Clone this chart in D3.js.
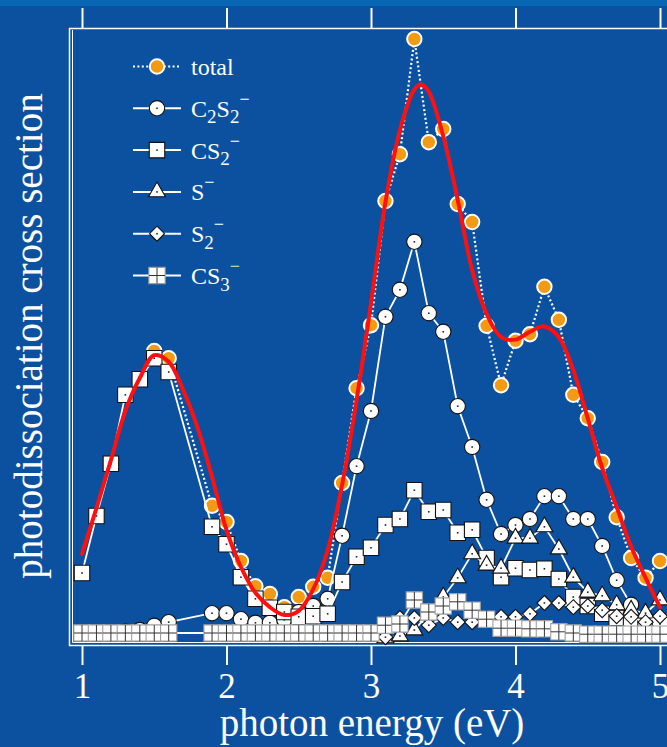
<!DOCTYPE html>
<html>
<head>
<meta charset="utf-8">
<script src="https://cdn.jsdelivr.net/npm/d3@7"></script>
<style>
  html, body { margin: 0; padding: 0; background: #0b51a0; }
  svg { display: block; }
  text { font-family: "Liberation Serif", "Times New Roman", serif; fill: #fff; }
</style>
</head>
<body>
<svg id="chart" width="667" height="747"></svg>
<script>
// photon energy (eV), no points measured at 1.7 and 1.8
const energy = [1.0, 1.1, 1.2, 1.3, 1.4, 1.5, 1.6,
  1.9, 2.0, 2.1, 2.2, 2.3, 2.4, 2.5, 2.6, 2.7, 2.8, 2.9, 3.0,
  3.1, 3.2, 3.3, 3.4, 3.5, 3.6, 3.7, 3.8, 3.9, 4.0,
  4.1, 4.2, 4.3, 4.4, 4.5, 4.6, 4.7, 4.8, 4.9, 5.0];

const total = [null, null, null, null, null, 47.0, 45.8,
  21.2, 18.5, 12.0, 7.8, 6.5, 4.3, 6.0, 7.7, 9.2, 25.0, 40.8, 51.3,
  72.0, 79.8, 99.0, 81.8, 84.0, 71.5, 68.5, 51.2, 41.3, 48.7,
  49.8, 57.7, 52.2, 39.7, 35.8, 28.5, 19.3, 12.5, 9.2, 12.0];

const c2s2 = [0, 0, 0, 0.2, 0.5, 1.2, 1.8,
  3.3, 3.3, 2.3, 1.7, 1.7, 2.2, 3.5, 4.5, 5.7, 16.2, 27.8, 37.0,
  52.7, 57.2, 65.2, 53.3, 50.2, 37.8, 31.0, 22.2, 16.5, 18.0,
  19.0, 22.8, 22.8, 19.0, 19.0, 14.5, 8.8, 4.7, 2.2, 1.3];

const cs2 = [10.0, 19.5, 28.2, 39.7, 42.3, 45.8, 43.5,
  17.7, 14.8, 9.3, 5.7, 4.2, 3.5, 2.7, 2.8, 3.2, 8.5, 12.7, 14.2,
  18.0, 19.0, 23.8, 20.2, 20.5, 16.7, 17.2, 12.5, 9.3, 10.8,
  10.5, 10.7, 9.0, 6.0, 4.5, 3.2, 2.5, 2.2, 1.8, 1.5];

const sMinus = [null, null, null, null, null, null, null,
  null, null, null, null, null, null, null, null, null, null, null, null,
  -0.8, -0.5, 0.5, 3.2, 6.0, 9.2, 13.2, 11.3, 10.8, 15.8,
  15.8, 17.7, 14.0, 9.3, 6.8, 6.2, 4.7, 3.8, 3.3, 5.5];

const s2 = [null, null, null, null, null, null, null,
  null, null, null, null, null, null, null, null, null, null, null, null,
  -0.7, 2.5, 2.5, 1.3, 2.5, 1.8, 1.8, 2.5, 2.7, 2.7,
  3.2, 5.0, 5.0, 4.3, 4.5, 3.8, 2.8, 2.7, 1.8, 2.8];

const cs3 = [0, 0, 0, 0, 0, 0, 0,
  0, 0, 0, 0, 0, 0, 0, 0, 0, 0, 0, 0,
  1.3, 1.5, 5.5, 3.5, 4.5, 5.2, 3.8, 2.3, 0.8, 0.8,
  0.7, 0.7, 0.2, 0, -0.2, -0.2, -0.2, -0.2, -0.2, -0.2];

// smooth fit drawn in red
const fitEnergy = [1.0, 1.1, 1.2, 1.3, 1.4, 1.5, 1.6, 1.7, 1.8, 1.9,
  2.0, 2.1, 2.2, 2.3, 2.4, 2.5, 2.6, 2.7, 2.8, 2.9,
  3.0, 3.1, 3.2, 3.3, 3.35, 3.4, 3.5, 3.6, 3.7, 3.8, 3.9,
  4.0, 4.1, 4.2, 4.3, 4.4, 4.5, 4.6, 4.7, 4.8, 4.9, 5.0];
const fitValues = [13.2, 20.8, 28.8, 37.0, 42.5, 46.3, 45.2, 40.5, 34.2, 26.0,
  17.2, 11.0, 6.7, 4.3, 3.0, 3.7, 7.3, 13.8, 24.7, 38.8,
  55.0, 71.8, 83.8, 90.6, 91.4, 90.2, 82.8, 72.2, 60.5, 53.2, 49.3,
  48.9, 50.2, 51.1, 49.3, 43.8, 35.8, 27.5, 21.0, 14.4, 9.2, 4.3];

const xTicks = [1, 2, 3, 4, 5];

const W = 667, H = 747;
const svg = d3.select('#chart');

svg.append('rect').attr('width', W).attr('height', H).attr('fill', '#0b51a0');
svg.append('rect').attr('width', W).attr('height', 6).attr('fill', '#0866b4');

const x = d3.scaleLinear().domain([1, 5]).range([82, 660]);
const y = d3.scaleLinear().domain([0, 100]).range([633, 33]);

// frame: top, left and bottom (right side runs off the page)
const frame = svg.append('g').attr('fill', 'none').attr('stroke', '#fff');
frame.append('path').attr('stroke-width', 1.5)
  .attr('d', `M${W + 5},28.5H69.5V645.5H${W + 5}`);
frame.append('path').attr('stroke-width', 1)
  .attr('d', `M72.5,30V642.5H${W + 5}`);

// ticks
const bottomAxis = svg.append('g')
  .attr('transform', 'translate(0,645)')
  .call(d3.axisBottom(x).tickValues(xTicks).tickSize(20).tickPadding(8).tickFormat(d3.format('d')));
const topAxis = svg.append('g')
  .attr('transform', 'translate(0,28)')
  .call(d3.axisTop(x).tickValues(xTicks).tickSize(20).tickFormat(''));
[bottomAxis, topAxis].forEach((g) => {
  g.select('.domain').remove();
  g.selectAll('line').attr('stroke', '#fff').attr('stroke-width', 2);
  g.selectAll('text').attr('fill', '#fff').attr('font-size', 35)
    .attr('font-family', '"Liberation Serif", serif');
});

// axis titles
svg.append('text')
  .attr('x', 372).attr('y', 736)
  .attr('text-anchor', 'middle')
  .attr('font-size', 39)
  .text('photon energy (eV)');
svg.append('text')
  .attr('transform', 'translate(42,336)rotate(-90)')
  .attr('text-anchor', 'middle')
  .attr('font-size', 39)
  .text('photodissociation cross section');

// markers
const diamondPath = 'M0,-7.5L7.5,0L0,7.5L-7.5,0Z';
function drawMarker(g, kind) {
  if (kind === 'total') {
    g.append('circle').attr('r', 7.2).attr('fill', '#f39a13')
      .attr('stroke', '#fff').attr('stroke-width', 2);
    return;
  }
  let shape;
  if (kind === 'circle') shape = d3.symbol(d3.symbolCircle, 185)();
  else if (kind === 'square') shape = d3.symbol(d3.symbolSquare, 240)();
  else if (kind === 'cross') shape = d3.symbol(d3.symbolSquare, 265)();
  else if (kind === 'triangle') shape = d3.symbol(d3.symbolTriangle, 125)();
  else shape = diamondPath;
  g.append('path').attr('d', shape).attr('fill', '#fff')
    .attr('stroke', kind === 'cross' ? '#a0a0a0' : '#111')
    .attr('stroke-width', 1.1);
  if (kind === 'cross') {
    g.append('path').attr('d', 'M0,-8V8M-8,0H8')
      .attr('stroke', '#333').attr('stroke-width', 1);
  } else {
    g.append('rect').attr('x', -0.8).attr('y', -0.8).attr('width', 1.6).attr('height', 1.6)
      .attr('fill', '#222');
  }
}

const seriesList = [
  { values: total, kind: 'total', dotted: true },
  { values: c2s2, kind: 'circle' },
  { values: cs2, kind: 'square' },
  { values: sMinus, kind: 'triangle' },
  { values: s2, kind: 'diamond' },
  { values: cs3, kind: 'cross' }
];

const line = d3.line()
  .defined((d) => d.v !== null)
  .x((d) => x(d.e))
  .y((d) => y(d.v));

const plot = svg.append('g');
seriesList.forEach((s) => {
  const pts = energy.map((e, i) => ({ e, v: s.values[i] })).filter((d) => d.v !== null);
  const g = plot.append('g');
  g.append('path').datum(pts)
    .attr('d', line)
    .attr('fill', 'none')
    .attr('stroke', '#fff')
    .attr('stroke-width', s.dotted ? 2.2 : 1.8)
    .attr('stroke-dasharray', s.dotted ? '2,2.4' : null);
  g.selectAll('g.pt').data(pts).enter()
    .append('g').attr('class', 'pt')
    .attr('transform', (d) => `translate(${x(d.e)},${y(d.v)})`)
    .each(function() { drawMarker(d3.select(this), s.kind); });
});

// red fit curve on top
plot.append('path')
  .datum(fitEnergy.map((e, i) => ({ e, v: fitValues[i] })))
  .attr('d', d3.line().x((d) => x(d.e)).y((d) => y(d.v)).curve(d3.curveCatmullRom))
  .attr('fill', 'none')
  .attr('stroke', '#ff1010')
  .attr('stroke-width', 4)
  .attr('stroke-linecap', 'round');

// legend
const legendLabels = [
  [['total', 'n']],
  [['C', 'n'], ['2', 'sub'], ['S', 'n'], ['2', 'sub'], ['\u2212', 'sup']],
  [['CS', 'n'], ['2', 'sub'], ['\u2212', 'sup']],
  [['S', 'n'], ['\u2212', 'sup']],
  [['S', 'n'], ['2', 'sub'], ['\u2212', 'sup']],
  [['CS', 'n'], ['3', 'sub'], ['\u2212', 'sup']]
];

const legend = svg.append('g');
seriesList.forEach((s, i) => {
  const cy = 66.5 + i * 41.8;
  const row = legend.append('g').attr('transform', `translate(0,${cy})`);
  row.append('line').attr('x1', 133).attr('x2', 181).attr('y1', 0).attr('y2', 0)
    .attr('stroke', '#fff').attr('stroke-width', 2)
    .attr('stroke-dasharray', s.dotted ? '2,2.4' : null);
  const m = row.append('g').attr('transform', 'translate(157,0)');
  drawMarker(m, s.kind);

  const t = row.append('text').attr('x', 191).attr('y', 8.5).attr('font-size', 24);
  let shift = 0;
  legendLabels[i].forEach(([str, kind]) => {
    let target = 0, size = 24, color = '#fff';
    if (kind === 'sub') { target = 6.5; size = 19; }
    if (kind === 'sup') { target = -12; size = 18; if (i === 5) color = '#d8e2a4'; }
    t.append('tspan').attr('dy', target - shift).attr('font-size', size)
      .attr('fill', color).text(str);
    shift = target;
  });
});
</script>
</body>
</html>
